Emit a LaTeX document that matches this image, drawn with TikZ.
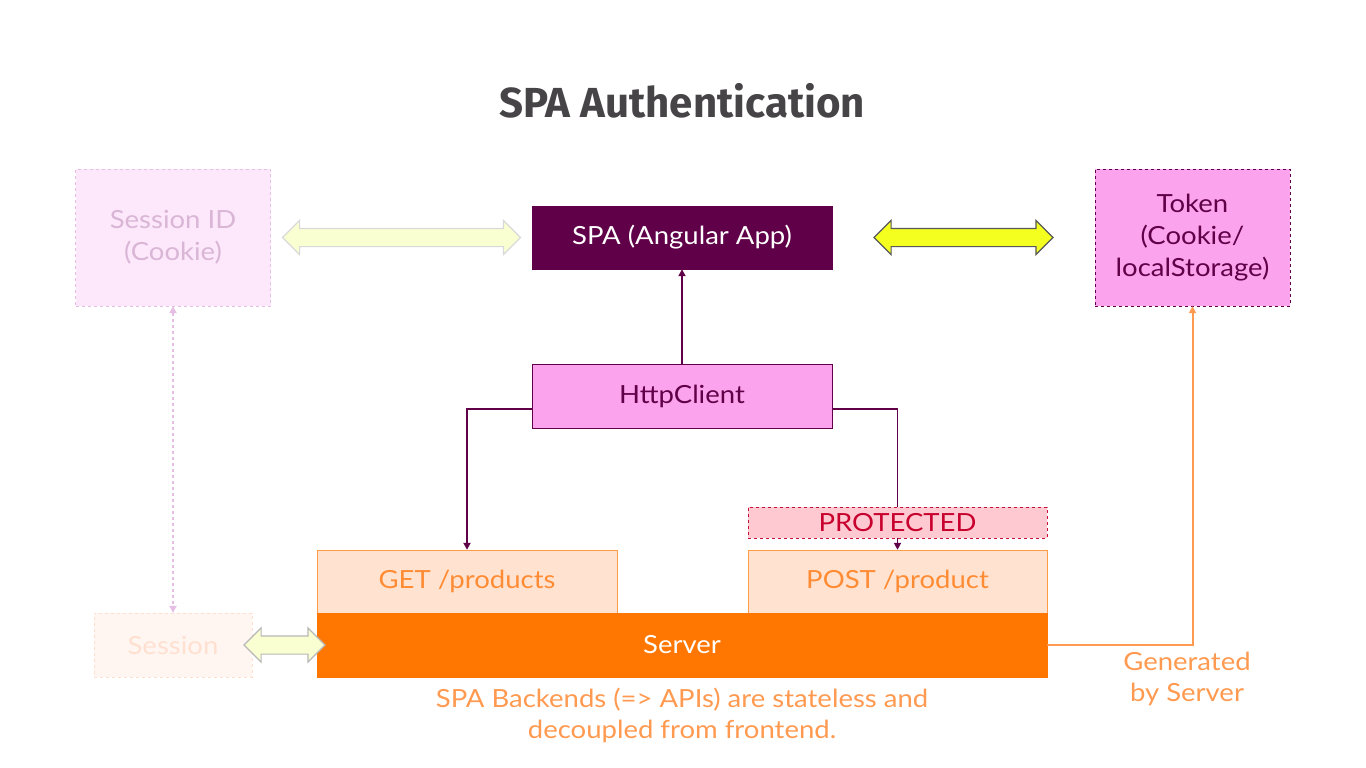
\documentclass[tikz,border=0pt]{standalone}
\usepackage{fontspec}
\setmainfont{Lato}[FakeStretch=1.1]
\newfontfamily\titlefont{Fira Sans}
\usetikzlibrary{arrows.meta,shapes.arrows}

\definecolor{plum}{HTML}{600048}
\definecolor{pinkfill}{HTML}{FBA3EC}
\definecolor{palepink}{HTML}{FDE8FB}
\definecolor{palepinkline}{HTML}{E6BDE3}
\definecolor{palepinktext}{HTML}{D9B5D6}
\definecolor{serverorange}{HTML}{FF7700}
\definecolor{peach}{HTML}{FFE3D0}
\definecolor{peachline}{HTML}{FF9A45}
\definecolor{peachtext}{HTML}{FF8C35}
\definecolor{linkorange}{HTML}{FF9A50}
\definecolor{protfill}{HTML}{FFC9D2}
\definecolor{protline}{HTML}{C8103A}
\definecolor{prottext}{HTML}{C8002D}
\definecolor{sessfill}{HTML}{FFF6F2}
\definecolor{sessline}{HTML}{FFE0D0}
\definecolor{titlegray}{HTML}{474448}
\definecolor{brightyellow}{HTML}{F4FF1F}
\definecolor{paleyellow}{HTML}{FAFFD2}

\tikzset{
  box/.style={draw, inner sep=0pt, align=center, font=\fontsize{25}{32}\selectfont,
    minimum width=300pt, minimum height=63pt},
  blockarrow/.style={double arrow, draw, line width=1.2pt, inner xsep=0pt, inner ysep=8.5pt,
    minimum width=0pt, double arrow head extend=8pt},
  link/.style={draw=plum, line width=1.8pt, -{Triangle[length=7pt,width=7pt]}},
}

\begin{document}
\begin{tikzpicture}[x=1pt,y=-1pt]
  \useasboundingbox[fill=white] (0,0) rectangle (1366,768);

  % Title
  \node[font=\titlefont\bfseries\fontsize{42}{44}\selectfont, text=titlegray] (title) at (682,101) {SPA Authentication};

  % Top row
  \node[box, draw=palepinkline, dashed, fill=palepink, text=palepinktext,
    minimum width=195pt, minimum height=137pt] (sessionid) at (173,237.5) {Session ID\\(Cookie)};
  \node[box, draw=plum, fill=plum, text=white] (spa) at (682,237.5) {SPA (Angular App)};
  \node[box, draw=plum, dashed, fill=pinkfill, text=plum,
    minimum width=195pt, minimum height=137pt] (token) at (1192.5,237.5) {Token\\(Cookie/\\localStorage)};

  % Block arrows
  \node[blockarrow, draw=black!15, fill=paleyellow, minimum height=238pt] (cookiearrow) at (401.5,237.5) {};
  \node[blockarrow, draw=black!65, fill=brightyellow, minimum height=179pt] (tokenarrow) at (963.5,237.5) {};

  % HttpClient
  \node[box, draw=plum, fill=pinkfill, text=plum, minimum height=64pt] (http) at (682,396) {HttpClient};

  % Routes and server
  \node[box, draw=peachline, fill=peach, text=peachtext] (get) at (467,581.5) {GET /products};
  \node[box, draw=peachline, fill=peach, text=peachtext, minimum width=299pt] (post) at (897.5,581.5) {POST /product};
  \node[box, draw=serverorange, fill=serverorange, text=white,
    minimum width=730pt, minimum height=64pt] (server) at (682,645) {Server};
  \node[box, draw=sessline, dashed, fill=sessfill, text=sessline,
    minimum width=158pt, minimum height=64pt] (session) at (173,645) {Session};
  \node[blockarrow, draw=black!28, fill=paleyellow, minimum height=81pt] (sessionarrow) at (284.5,645) {};

  % Connectors
  \draw[link] (http) -- (spa);
  \draw[link] ([yshift=-13pt]http.west) -| (get.north);
  \draw[link] ([yshift=-13pt]http.east) -| (post.north);
  \node[box, draw=protline, dashed, fill=protfill, text=prottext,
    minimum width=299pt, minimum height=31pt] (protected) at (897.5,522.5) {PROTECTED};
  \draw[draw=palepinkline, line width=1.8pt, dashed,
    {Triangle[length=7pt,width=7pt]}-{Triangle[length=7pt,width=7pt]}] (sessionid.south) -- (session.north);
  \draw[draw=linkorange, line width=2pt, -{Triangle[length=7pt,width=7pt]}] (server.east) -| (token.south);

  % Notes
  \node[font=\fontsize{25}{31}\selectfont, text=linkorange, align=center] (generated) at (1187,679) {Generated\\by Server};
  \node[font=\fontsize{25}{31}\selectfont, text=linkorange, align=center] (note) at (682,715)
    {SPA Backends (=> APIs) are stateless and\\decoupled from frontend.};
\end{tikzpicture}
\end{document}
